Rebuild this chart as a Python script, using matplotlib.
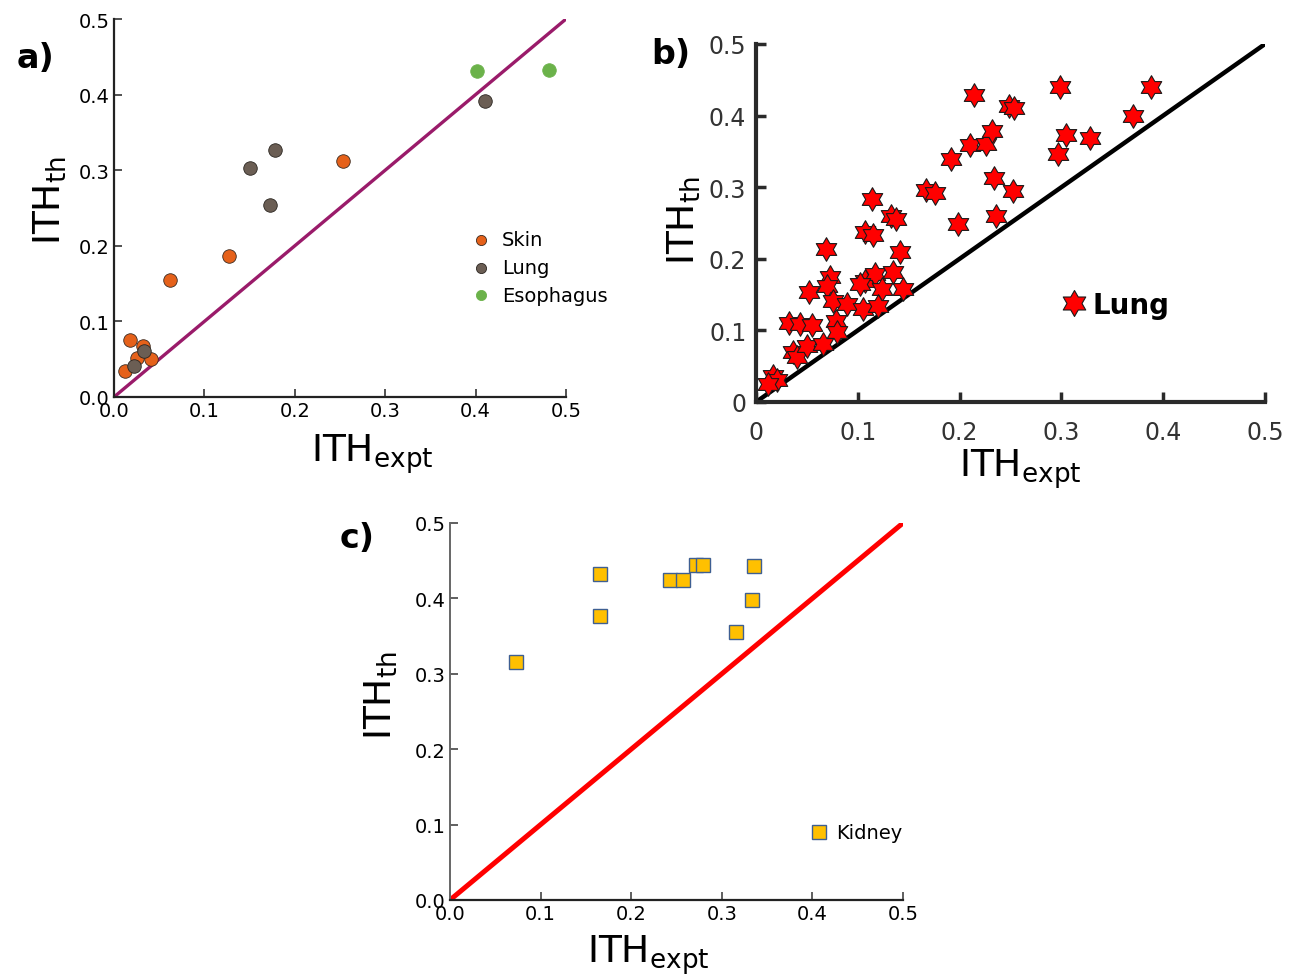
import numpy as np
import matplotlib
matplotlib.use("Agg")
import matplotlib.pyplot as plt
from matplotlib.path import Path
from matplotlib import font_manager

# ---------------- data ----------------
skin_x = [0.012, 0.018, 0.025, 0.032, 0.041, 0.062, 0.127, 0.253]
skin_y = [0.034, 0.075, 0.052, 0.068, 0.050, 0.155, 0.187, 0.312]
lung_a_x = [0.022, 0.033, 0.150, 0.173, 0.178, 0.410]
lung_a_y = [0.041, 0.061, 0.303, 0.254, 0.327, 0.392]
eso_x = [0.402, 0.481]
eso_y = [0.431, 0.433]

lung_b_x = [0.069, 0.114, 0.107, 0.115, 0.133, 0.138, 0.141, 0.167, 0.176, 0.192,
            0.198, 0.210, 0.214, 0.226, 0.232, 0.234, 0.236, 0.249, 0.253, 0.252,
            0.299, 0.297, 0.305, 0.328, 0.370, 0.388,
            0.073, 0.070, 0.052, 0.076, 0.089, 0.105, 0.107, 0.117, 0.124, 0.120,
            0.135, 0.144, 0.102, 0.032, 0.043, 0.055, 0.079, 0.080, 0.036, 0.040,
            0.050, 0.066, 0.017, 0.021, 0.012]
lung_b_y = [0.214, 0.284, 0.237, 0.233, 0.260, 0.256, 0.209, 0.296, 0.292, 0.339,
            0.249, 0.359, 0.429, 0.360, 0.378, 0.313, 0.260, 0.414, 0.410, 0.295,
            0.440, 0.346, 0.373, 0.369, 0.400, 0.440,
            0.175, 0.162, 0.154, 0.141, 0.137, 0.130, 0.169, 0.179, 0.158, 0.134,
            0.182, 0.158, 0.165, 0.110, 0.109, 0.108, 0.113, 0.098, 0.070, 0.063,
            0.078, 0.081, 0.036, 0.031, 0.025]

kidney_x = [0.073, 0.166, 0.166, 0.243, 0.257, 0.272, 0.279, 0.336, 0.333, 0.316]
kidney_y = [0.316, 0.432, 0.377, 0.424, 0.424, 0.444, 0.444, 0.443, 0.398, 0.355]

ticks_a = [0.0, 0.1, 0.2, 0.3, 0.4, 0.5]
ticklabels_a = ["0.0", "0.1", "0.2", "0.3", "0.4", "0.5"]
ticklabels_b = ["0", "0.1", "0.2", "0.3", "0.4", "0.5"]
diag = [0.0, 0.5]

# ---------------- style ----------------
_names = {f.name for f in font_manager.fontManager.ttflist}
if "DejaVu Sans Condensed" in _names:
    NARROW = ["DejaVu Sans Condensed", "DejaVu Sans"]
    NSIZE = 15
else:
    NARROW = ["DejaVu Sans"]
    NSIZE = 14

W, H = 1296, 979
fig = plt.figure(figsize=(W / 100, H / 100), dpi=100)


def fx(px):
    return px / W


def fy(py):
    return 1 - py / H


def ax_rect(x0, y0, x1, y1):
    return [fx(x0), fy(y1), fx(x1) - fx(x0), fy(y0) - fy(y1)]


# hexagram marker
ang_out = np.deg2rad(90 + 60 * np.arange(6))
ang_in = ang_out + np.deg2rad(30)
r_in = 1 / np.sqrt(3)
verts = []
for ao, ai in zip(ang_out, ang_in):
    verts.append((np.cos(ao), np.sin(ao)))
    verts.append((r_in * np.cos(ai), r_in * np.sin(ai)))
verts.append(verts[0])
hexstar = Path(verts, closed=True)

label_kw = dict(fontsize=27, family="DejaVu Sans")

# ---------------- panel a ----------------
axa = fig.add_axes(ax_rect(114, 20, 566, 398))
axa.plot(diag, diag, color="#9A1B6A", lw=2.4, zorder=1)
axa.scatter(skin_x, skin_y, s=95, color="#E5611A", edgecolor="#3a2a20", lw=0.6, zorder=3, label="Skin")
axa.scatter(lung_a_x, lung_a_y, s=95, color="#6B5E54", edgecolor="#2a2520", lw=0.6, zorder=4, label="Lung")
axa.scatter(eso_x, eso_y, s=95, color="#6BB24A", edgecolor="#6BB24A", lw=0.6, zorder=3, label="Esophagus")
axa.set_xlim(0, 0.5)
axa.set_ylim(0, 0.5)
for s in ["top", "right"]:
    axa.spines[s].set_visible(False)
for s in ["left", "bottom"]:
    axa.spines[s].set_linewidth(1.6)
    axa.spines[s].set_color("#222222")
axa.set_xticks(ticks_a)
axa.set_yticks(ticks_a)
axa.set_xticklabels(ticklabels_a, family=NARROW, fontsize=NSIZE)
axa.set_yticklabels(ticklabels_a, family=NARROW, fontsize=NSIZE)
axa.tick_params(direction="in", length=6, width=1.2, color="#333333", pad=3)
axa.legend(loc="upper left", bbox_to_anchor=(fx(471), fy(231)), bbox_transform=fig.transFigure,
           frameon=False, prop={"family": NARROW, "size": NSIZE}, handletextpad=0.6,
           labelspacing=0.45, borderpad=0, borderaxespad=0, handlelength=1.0,
           scatterpoints=1, markerscale=0.75)
fig.text(fx(372), fy(454), r"$\mathregular{ITH_{expt}}$", ha="center", va="center", **label_kw)
fig.text(fx(50), fy(200), r"$\mathregular{ITH_{th}}$", ha="center", va="center", rotation=90, **label_kw)
fig.text(fx(35), fy(58), "a)", ha="center", va="center", fontsize=24, fontweight="bold", family="DejaVu Sans")

# ---------------- panel b ----------------
axb = fig.add_axes(ax_rect(756, 45, 1265, 403))
axb.plot(diag, diag, color="black", lw=3.2, zorder=1)
axb.plot(lung_b_x, lung_b_y, ls="none", marker=hexstar, ms=17, mfc="#FF0000", mec="#1a1a1a",
         mew=0.8, zorder=3, label="Lung")
axb.set_xlim(0, 0.5)
axb.set_ylim(0, 0.5)
for s in ["top", "right"]:
    axb.spines[s].set_visible(False)
for s in ["left", "bottom"]:
    axb.spines[s].set_linewidth(3)
    axb.spines[s].set_color("#2a2a2a")
axb.set_xticks(ticks_a)
axb.set_yticks(ticks_a)
axb.set_xticklabels(ticklabels_b, family="DejaVu Sans", fontsize=17, color="#333333")
axb.set_yticklabels(ticklabels_b, family="DejaVu Sans", fontsize=17, color="#333333")
axb.tick_params(direction="in", length=7, width=2.5, color="#2a2a2a")
axb.tick_params(axis="x", pad=13)
axb.tick_params(axis="y", pad=7)
axb.legend(loc="center left", bbox_to_anchor=(fx(1063), fy(306)), bbox_transform=fig.transFigure,
           frameon=False, prop={"family": "DejaVu Sans", "size": 20, "weight": "bold"},
           handletextpad=0.25, borderpad=0, borderaxespad=0, handlelength=0.8, numpoints=1,
           markerscale=1.1)
fig.text(fx(1020), fy(469), r"$\mathregular{ITH_{expt}}$", ha="center", va="center", **label_kw)
fig.text(fx(684), fy(220), r"$\mathregular{ITH_{th}}$", ha="center", va="center", rotation=90, **label_kw)
fig.text(fx(671), fy(55), "b)", ha="center", va="center", fontsize=24, fontweight="bold", family="DejaVu Sans")

# ---------------- panel c ----------------
axc = fig.add_axes(ax_rect(450, 524, 903, 901))
axc.plot(diag, diag, color="#FF0000", lw=3.6, zorder=1)
axc.plot(kidney_x, kidney_y, ls="none", marker="s", ms=10.5, mfc="#FFC000", mec="#3E5F92",
         mew=1.0, zorder=3, label="Kidney")
axc.set_xlim(0, 0.5)
axc.set_ylim(0, 0.5)
for s in ["top", "right"]:
    axc.spines[s].set_visible(False)
axc.spines["left"].set_color("#666666")
axc.spines["bottom"].set_color("#222222")
axc.spines["left"].set_linewidth(1.4)
axc.spines["bottom"].set_linewidth(1.6)
axc.set_xticks(ticks_a)
axc.set_yticks(ticks_a)
axc.set_xticklabels(ticklabels_a, family=NARROW, fontsize=NSIZE)
axc.set_yticklabels(ticklabels_a, family=NARROW, fontsize=NSIZE)
axc.tick_params(direction="in", length=6, width=1.2, color="#444444", pad=3)
axc.legend(loc="center left", bbox_to_anchor=(fx(809), fy(834)), bbox_transform=fig.transFigure,
           frameon=False, prop={"family": NARROW, "size": NSIZE},
           handletextpad=0.4, borderpad=0, borderaxespad=0, handlelength=1.0, numpoints=1,
           markerscale=0.9)
fig.text(fx(648), fy(955), r"$\mathregular{ITH_{expt}}$", ha="center", va="center", **label_kw)
fig.text(fx(381), fy(695), r"$\mathregular{ITH_{th}}$", ha="center", va="center", rotation=90, **label_kw)
fig.text(fx(357), fy(538), "c)", ha="center", va="center", fontsize=24, fontweight="bold", family="DejaVu Sans")

fig.savefig("out.png", dpi=100)
